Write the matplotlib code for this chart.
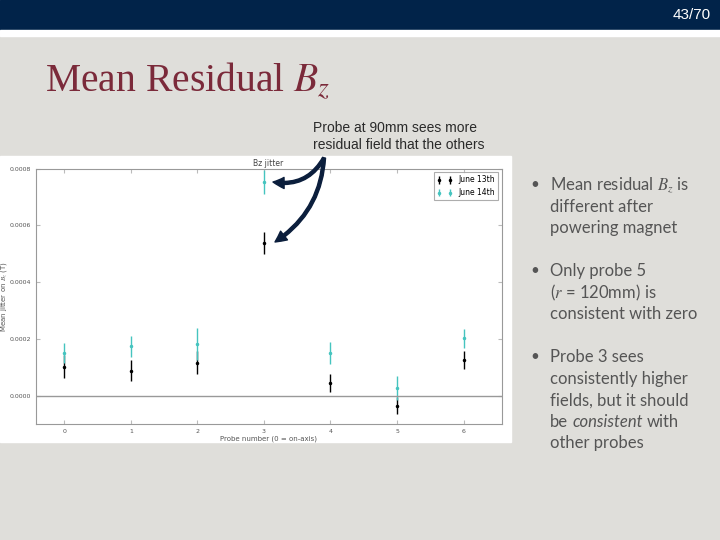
import matplotlib
matplotlib.use('Agg')
import matplotlib.pyplot as plt
from matplotlib.patches import Rectangle, FancyArrowPatch

plt.rcParams['mathtext.fontset'] = 'stix'

# ---- data ----
probes = [0, 1, 2, 3, 4, 5, 6]
june13_mean = [0.000102, 0.000088, 0.000116, 0.000538, 0.000044, -0.000035, 0.000126]
june13_err = [0.000040, 0.000038, 0.000040, 0.000038, 0.000031, 0.000030, 0.000032]
june14_mean = [0.000151, 0.000173, 0.000182, 0.000753, 0.000151, 0.000026, 0.000202]
june14_err = [0.000036, 0.000036, 0.000057, 0.000042, 0.000038, 0.000042, 0.000033]
series_labels = ['June 13th', 'June 14th']
y_ticks = [0.0000, 0.0002, 0.0004, 0.0006, 0.0008]

# each line is a list of (text, italic) pieces
bullets = [
    [[('Mean residual $B_z$ is', False)], [('different after', False)],
     [('powering magnet', False)]],
    [[('Only probe 5', False)], [('($r$ = 120mm) is', False)],
     [('consistent with zero', False)]],
    [[('Probe 3 sees', False)], [('consistently higher', False)],
     [('fields, but it should', False)],
     [('be', False), ('consistent', True), ('with', False)],
     [('other probes', False)]],
]

W, H = 720, 540
fig = plt.figure(figsize=(7.2, 5.4), dpi=100)
fig.patch.set_facecolor('#dfdeda')


def fx(px):
    return px / W


def fy(py):
    return 1 - py / H


# slide header
fig.patches.append(Rectangle((0, fy(30)), 1, 30 / H, transform=fig.transFigure,
                             color='#012349', zorder=-2))
fig.patches.append(Rectangle((0, fy(36)), 1, 6 / H, transform=fig.transFigure,
                             color='white', zorder=-2))
fig.text(fx(711), fy(15), '43/70', color='white', fontsize=11,
         ha='right', va='center', family='Liberation Sans')

fig.text(fx(45), fy(81), 'Mean Residual $B_z$', color='#7b2a3a', fontsize=28.5,
         ha='left', va='center', family='Liberation Serif')

fig.text(fx(313), fy(128), 'Probe at 90mm sees more', fontsize=10,
         ha='left', va='center', family='Liberation Sans', color='#2a2a2a')
fig.text(fx(313), fy(145), 'residual field that the others', fontsize=10,
         ha='left', va='center', family='Liberation Sans', color='#2a2a2a')

# white picture box behind the chart
fig.patches.append(Rectangle((0, fy(442)), fx(511), (442 - 155.5) / H,
                             transform=fig.transFigure, color='white', zorder=-1))

# ---- chart ----
ax = fig.add_axes([fx(35.7), fy(424), fx(501.5 - 35.7), (424 - 168.5) / H])
ax.errorbar(probes, june13_mean, yerr=june13_err, fmt='.', color='k',
            markersize=3, elinewidth=1, label=series_labels[0])
ax.errorbar(probes, june14_mean, yerr=june14_err, fmt='.', color='#45c4bf',
            markersize=3, elinewidth=1, label=series_labels[1])
ax.axhline(0, color='#999999', lw=1)
ax.set_xlim(-0.43, 6.57)
ax.set_ylim(-0.0001, 0.0008)
ax.set_yticks(y_ticks)
ax.set_yticklabels([f'{t:.4f}' for t in y_ticks])
ax.set_xticks(probes)
ax.tick_params(direction='in', top=True, right=True, labelsize=4.5,
               colors='#bbbbbb', labelcolor='#555555', length=3)
for s in ax.spines.values():
    s.set_color('#999999')
ax.set_title('Bz jitter', fontsize=5.5, color='#444444', pad=2)
ax.set_xlabel('Probe number (0 = on-axis)', fontsize=5, color='#555555', labelpad=1)
ax.set_ylabel('Mean jitter on $B_z$ (T)', fontsize=5, color='#555555')
ax.yaxis.set_label_coords(-0.058, 0.5)
leg = ax.legend(loc='upper right', fontsize=5.5, numpoints=2, fancybox=False,
                borderpad=0.4, handlelength=2)
leg.get_frame().set_edgecolor('#999999')
leg.get_frame().set_linewidth(0.8)

# arrows from the note to probe 3
style = 'Simple,tail_width=2.2,head_width=8,head_length=8'
for end, rad in [((273, 182), -0.35), ((275, 242), -0.25)]:
    fig.add_artist(FancyArrowPatch((fx(324), fy(158)), (fx(end[0]), fy(end[1])),
                                   transform=fig.transFigure, arrowstyle=style,
                                   connectionstyle=f'arc3,rad={rad}',
                                   color='#0b1e3c', shrinkA=0, shrinkB=0))

# ---- bullets ----
renderer = fig.canvas.get_renderer()
y0 = [185, 271, 357]
for block, yb in zip(bullets, y0):
    fig.text(fx(530), fy(yb), '•', fontsize=11, color='#555555',
             ha='left', va='center', family='Lato')
    for i, line in enumerate(block):
        x = 550
        for piece, italic in line:
            t = fig.text(fx(x), fy(yb + i * 21.6), piece, fontsize=12, color='#555555',
                         ha='left', va='center', family='Lato',
                         style='italic' if italic else 'normal')
            x += t.get_window_extent(renderer).width + 4

fig.savefig('out.png', dpi=100, facecolor=fig.get_facecolor())
